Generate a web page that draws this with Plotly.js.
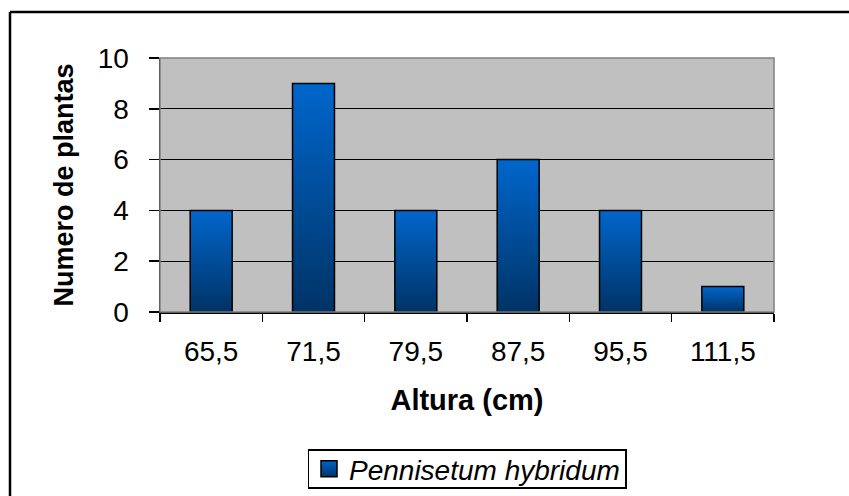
<!DOCTYPE html>
<html>
<head>
<meta charset="utf-8">
<script src="https://cdn.plot.ly/plotly-3.0.1.min.js"></script>
<style>
html,body{margin:0;padding:0;background:#fff;}
#chart{width:849px;height:496px;}
</style>
</head>
<body>
<div id="chart"></div>
<script>
const categories = ["65,5", "71,5", "79,5", "87,5", "95,5", "111,5"];
const counts = [4, 9, 4, 6, 4, 1];
const seriesName = "Pennisetum hybridum";
const yTicks = [0, 2, 4, 6, 8, 10];

const FONT = "Liberation Sans, Arial, sans-serif";

const trace = {
  type: "bar",
  x: categories,
  y: counts,
  name: seriesName,
  showlegend: true,
  marker: { color: "#0050a0", line: { color: "#000000", width: 1.5 } }
};

const layout = {
  width: 849, height: 496,
  margin: { l: 160, r: 75, t: 58, b: 184, autoexpand: false },
  paper_bgcolor: "#ffffff",
  plot_bgcolor: "#c0c0c0",
  bargap: 0.59,
  showlegend: true,
  font: { family: FONT, color: "#000000", size: 24 },
  xaxis: {
    type: "category", automargin: false,
    showline: true, linecolor: "#000000", linewidth: 1.5,
    ticks: "outside", ticklen: 8, tickcolor: "#000000", tickwidth: 1.5,
    tickson: "boundaries",
    ticklabelstandoff: 14,
    showgrid: false,
    tickfont: { family: FONT, size: 28, color: "#000" },
    title: { text: "<b>Altura (cm)</b>", font: { family: FONT, size: 29, color: "#000" }, standoff: 23 }
  },
  yaxis: {
    range: [0, 10], automargin: false,
    tickvals: yTicks,
    showline: true, linecolor: "#000000", linewidth: 1.5,
    ticks: "outside", ticklen: 10, tickcolor: "#000000", tickwidth: 1.5,
    ticklabelstandoff: 14,
    showgrid: true, gridcolor: "#000000", gridwidth: 1.2,
    zeroline: false,
    tickfont: { family: FONT, size: 28, color: "#000" },
    title: { text: "<b>Numero de plantas</b>", font: { family: FONT, size: 27, color: "#000" }, standoff: 16 }
  },
  legend: {
    x: 0.5, xanchor: "center", y: -0.618, yanchor: "middle",
    orientation: "h",
    bgcolor: "#ffffff", bordercolor: "#000000", borderwidth: 1.5,
    font: { family: FONT, size: 28, color: "#000", style: "italic" }
  },
  shapes: [
    { type: "rect", xref: "paper", yref: "paper", x0: 0, x1: 1, y0: 0, y1: 1,
      line: { color: "#808080", width: 1.5 }, layer: "above" },
    { type: "line", xref: "paper", yref: "paper", x0: -0.2443, x1: 1.3, y0: 1.181, y1: 1.181,
      line: { color: "#000000", width: 2.5 } },
    { type: "line", xref: "paper", yref: "paper", x0: -0.2443, x1: -0.2443, y0: 1.181, y1: -0.9,
      line: { color: "#000000", width: 2.5 } }
  ]
};

function decorate(gd) {
  const svg = gd.querySelector("svg.main-svg");
  const ns = "http://www.w3.org/2000/svg";
  let defs = svg.querySelector("defs");
  if (!defs) { defs = document.createElementNS(ns, "defs"); svg.insertBefore(defs, svg.firstChild); }
  if (!svg.querySelector("#barGrad")) {
    const grad = document.createElementNS(ns, "linearGradient");
    grad.setAttribute("id", "barGrad");
    grad.setAttribute("x1", "0"); grad.setAttribute("y1", "0");
    grad.setAttribute("x2", "0"); grad.setAttribute("y2", "1");
    [["0%", "#0066cc"], ["100%", "#003366"]].forEach(function (s) {
      const st = document.createElementNS(ns, "stop");
      st.setAttribute("offset", s[0]); st.setAttribute("stop-color", s[1]);
      grad.appendChild(st);
    });
    defs.appendChild(grad);
  }
  gd.querySelectorAll(".bars path").forEach(function (p) {
    p.style.fill = "url(#barGrad)";
  });
  gd.querySelectorAll(".legendpoints path").forEach(function (p) {
    p.setAttribute("d", "M8,8H-8V-8H8Z");
    p.style.fill = "url(#barGrad)";
    p.style.strokeWidth = "1.5px";
  });
  const bg = gd.querySelector(".legend rect.bg");
  if (bg && !bg.dataset.adj) {
    const h = parseFloat(bg.getAttribute("height"));
    const y = parseFloat(bg.getAttribute("y") || 0);
    const newH = 38;
    bg.setAttribute("y", y + (h - newH) / 2);
    bg.setAttribute("height", newH);
    bg.dataset.adj = "1";
  }
}

Plotly.newPlot("chart", [trace], layout, { staticPlot: true }).then(function (gd) {
  decorate(gd);
  requestAnimationFrame(function () { decorate(gd); });
});
</script>
</body>
</html>
